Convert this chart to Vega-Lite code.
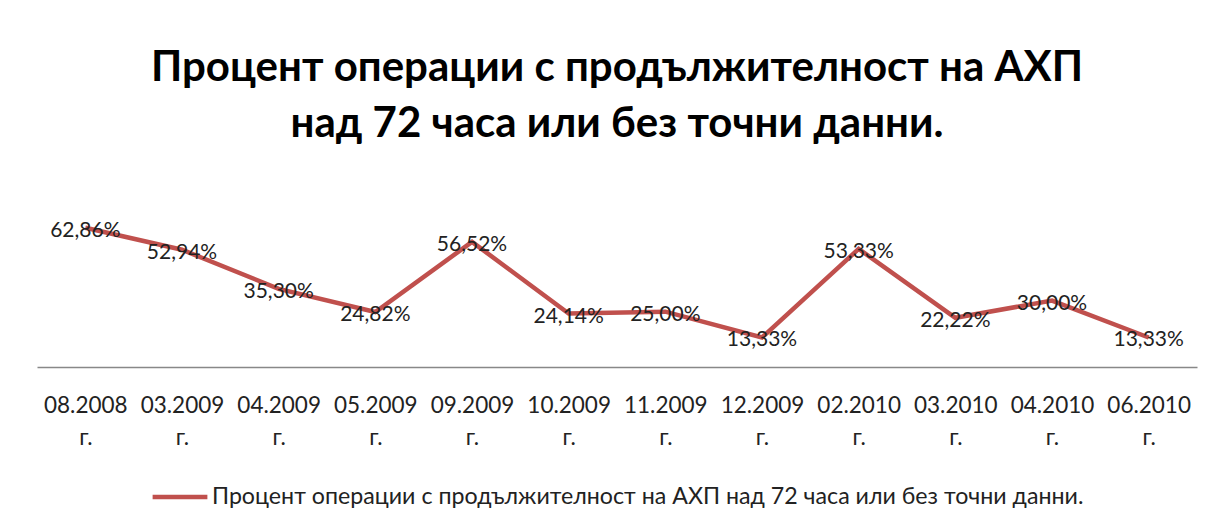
{
  "$schema": "https://vega.github.io/schema/vega-lite/v6.json",
  "autosize": {"type": "none"},
  "width": 1160,
  "height": 155,
  "padding": {"left": 37, "top": 212, "right": 12, "bottom": 160},
  "background": "white",
  "title": {
    "text": ["Процент операции с продължителност на АХП", "над 72 часа или без точни данни."],
    "font": "Lato",
    "fontWeight": "bold",
    "fontSize": 42,
    "lineHeight": 56,
    "color": "#000000",
    "anchor": "middle",
    "offset": 66
  },
  "config": {
    "view": {"stroke": null},
    "locale": {"number": {"decimal": ",", "thousands": " ", "grouping": [3], "currency": ["", ""]}}
  },
  "data": {
    "values": [
      {"period": "08.2008 г.", "value": 0.6286},
      {"period": "03.2009 г.", "value": 0.5294},
      {"period": "04.2009 г.", "value": 0.3530},
      {"period": "05.2009 г.", "value": 0.2482},
      {"period": "09.2009 г.", "value": 0.5652},
      {"period": "10.2009 г.", "value": 0.2414},
      {"period": "11.2009 г.", "value": 0.2500},
      {"period": "12.2009 г.", "value": 0.1333},
      {"period": "02.2010 г.", "value": 0.5333},
      {"period": "03.2010 г.", "value": 0.2222},
      {"period": "04.2010 г.", "value": 0.3000},
      {"period": "06.2010 г.", "value": 0.1333}
    ]
  },
  "encoding": {
    "x": {
      "field": "period",
      "type": "ordinal",
      "sort": null,
      "scale": {"type": "point", "padding": 0.5},
      "axis": {
        "title": null,
        "labelAngle": 0,
        "labelExpr": "split(datum.label, ' ')",
        "labelFont": "Lato",
        "labelFontSize": 22.5,
        "labelColor": "#222222",
        "labelLineHeight": 32,
        "labelPadding": 27,
        "ticks": false,
        "domainColor": "#888888",
        "domainWidth": 1.5,
        "grid": false
      }
    },
    "y": {
      "field": "value",
      "type": "quantitative",
      "scale": {"domain": [0, 0.7]},
      "axis": null
    }
  },
  "layer": [
    {
      "mark": {"type": "line", "strokeWidth": 4.5, "strokeJoin": "miter"},
      "encoding": {
        "color": {
          "datum": "Процент операции с продължителност на АХП над 72 часа или без точни данни.",
          "type": "nominal",
          "scale": {"range": ["#C0504D"]},
          "legend": {
            "title": null,
            "orient": "none",
            "legendX": 113,
            "legendY": 255,
            "direction": "horizontal",
            "symbolType": "stroke",
            "symbolSize": 3000,
            "symbolStrokeWidth": 4.5,
            "labelFont": "Lato",
            "labelFontSize": 23.2,
            "labelColor": "#222222",
            "labelLimit": 1200,
            "labelOffset": 2
          }
        }
      }
    },
    {
      "mark": {"type": "text", "font": "Lato", "fontSize": 21, "color": "#222222", "baseline": "middle", "dy": 3},
      "encoding": {
        "text": {"field": "value", "type": "quantitative", "format": ".2%"}
      }
    }
  ]
}
